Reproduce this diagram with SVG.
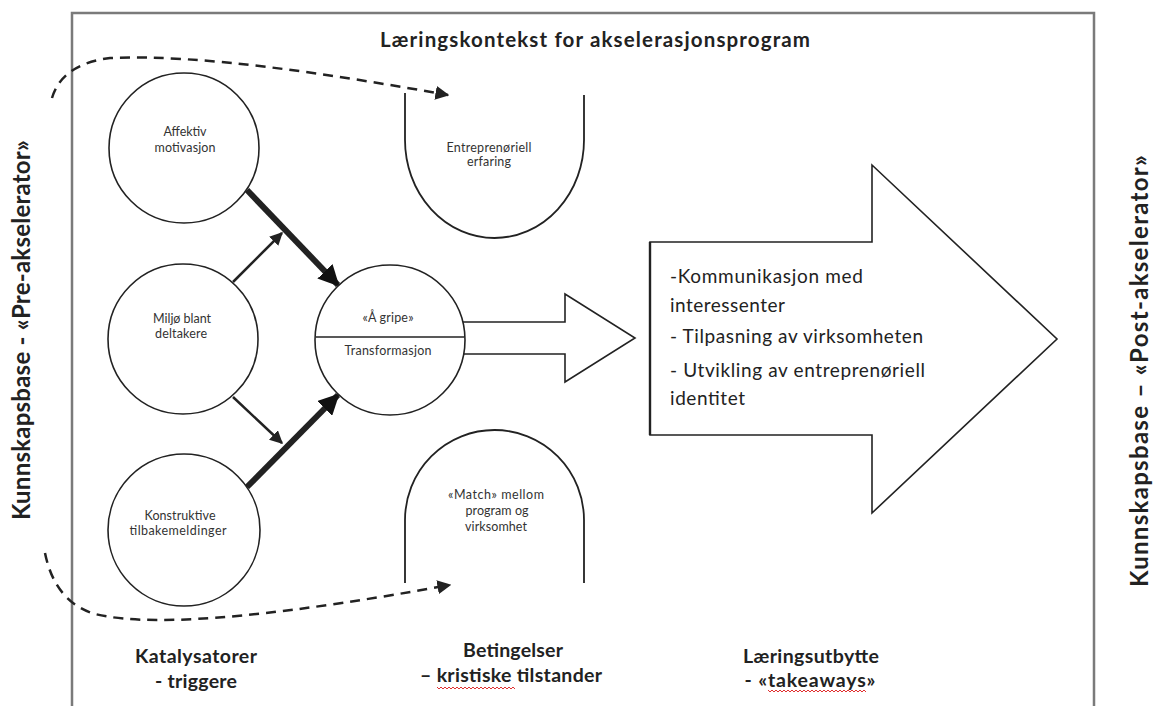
<svg xmlns="http://www.w3.org/2000/svg" width="1156" height="706" viewBox="0 0 1156 706">
<defs>
<style>
text{font-family:Lato,"Liberation Sans",sans-serif;fill:#222}
.b{font-weight:bold}
.sm{font-size:12.5px;fill:#333}
.big{font-size:19px}
.lbl{font-size:19.5px;font-weight:bold;text-anchor:middle}
.node{fill:#fff;stroke:#222;stroke-width:1.6}
.line{fill:none;stroke:#222}
.dash{fill:none;stroke:#222;stroke-width:2.5;stroke-dasharray:10 7}
.wavy{fill:none;stroke:#e03030;stroke-width:1}
</style>
<marker id="hd" viewBox="0 0 10 10" refX="9" refY="5" markerWidth="14" markerHeight="14" markerUnits="userSpaceOnUse" orient="auto"><path d="M0,0 L10,5 L0,10 Z" fill="#222"/></marker>
<marker id="hthin" viewBox="0 0 10 10" refX="9" refY="5" markerWidth="13" markerHeight="13" markerUnits="userSpaceOnUse" orient="auto"><path d="M0,0 L10,5 L0,10 Z" fill="#222"/></marker>
<marker id="hthick" viewBox="0 0 10 10" refX="9" refY="5" markerWidth="21" markerHeight="21" markerUnits="userSpaceOnUse" orient="auto"><path d="M0,0 L10,5 L0,10 Z" fill="#111"/></marker>
</defs>
<rect width="1156" height="706" fill="#fff"/>

<g id="frame">
<path d="M72,706 V13 H1094 V706" fill="none" stroke="#7a7a7a" stroke-width="2.5"/>
</g>

<g id="title">
<text class="b" x="595" y="47" font-size="20.5" text-anchor="middle" textLength="430">Læringskontekst for akselerasjonsprogram</text>
</g>

<g id="side-left">
<text class="b" font-size="24" text-anchor="middle" transform="translate(30,330) rotate(-90)" textLength="380">Kunnskapsbase - «Pre-akselerator»</text>
</g>
<g id="side-right">
<text class="b" font-size="24" text-anchor="middle" transform="translate(1148,371) rotate(-90)" textLength="432">Kunnskapsbase – «Post-akselerator»</text>
</g>

<g id="connectors">
<path class="dash" d="M52,98 Q62,64 110,58 C200,54 330,74 448,95" marker-end="url(#hd)"/>
<path class="dash" d="M45,553 Q55,602 95,614 C160,630 300,612 450,585" marker-end="url(#hd)"/>
<line class="line" x1="247" y1="190" x2="338" y2="285" stroke-width="6" marker-end="url(#hthick)"/>
<line class="line" x1="247" y1="487" x2="338" y2="395" stroke-width="6" marker-end="url(#hthick)"/>
<line class="line" x1="233" y1="282" x2="282" y2="233" stroke-width="2.5" marker-end="url(#hthin)"/>
<line class="line" x1="233" y1="397" x2="282" y2="443" stroke-width="2.5" marker-end="url(#hthin)"/>
<path class="line" stroke-width="1.6" d="M463,322 H565 V294 L635,338 L565,382 V354 H463"/>
</g>

<g id="affektiv">
<circle class="node" cx="184" cy="148" r="75"/>
<text class="sm" x="185" y="136" text-anchor="middle" textLength="43">Affektiv</text>
<text class="sm" x="185" y="152" text-anchor="middle" textLength="61">motivasjon</text>
</g>

<g id="miljo">
<circle class="node" cx="183" cy="339" r="75"/>
<text class="sm" x="182" y="323" text-anchor="middle" textLength="58">Miljø blant</text>
<text class="sm" x="181" y="338" text-anchor="middle" textLength="52">deltakere</text>
</g>

<g id="konstruktive">
<circle class="node" cx="184" cy="530" r="76"/>
<text class="sm" x="180" y="520" text-anchor="middle" textLength="71">Konstruktive</text>
<text class="sm" x="178" y="535" text-anchor="middle" textLength="97">tilbakemeldinger</text>
</g>

<g id="transformasjon">
<circle class="node" cx="390" cy="340" r="75" stroke-width="2"/>
<line x1="316" y1="337" x2="464" y2="337" stroke="#222" stroke-width="1.6"/>
<text class="sm" x="388" y="322" text-anchor="middle" textLength="51">«Å gripe»</text>
<text class="sm" x="388" y="355" text-anchor="middle" textLength="87">Transformasjon</text>
</g>

<g id="entreprenoriell">
<path class="line" stroke-width="1.8" d="M405,93 V140 A89.5,98 0 0 0 584,140 V95"/>
<text class="sm" x="489" y="152" text-anchor="middle" textLength="85">Entreprenøriell</text>
<text class="sm" x="489" y="166" text-anchor="middle" textLength="44">erfaring</text>
</g>

<g id="match">
<path class="line" stroke-width="1.8" d="M405,583 V520 A89.5,90 0 0 1 584,520 V583"/>
<text class="sm" x="496" y="499" text-anchor="middle" textLength="96">«Match» mellom</text>
<text class="sm" x="497" y="515" text-anchor="middle" textLength="63">program og</text>
<text class="sm" x="496" y="531" text-anchor="middle" textLength="62">virksomhet</text>
</g>

<g id="laeringsutbytte-pil">
<path d="M650,242 H872 V165 L1057,339 L872,513 V435 H650 Z" fill="#fff" stroke="#222" stroke-width="1.6"/>
<line x1="650" y1="242" x2="650" y2="435" stroke="#222" stroke-width="2.4"/>
<text class="big" x="670" y="283" textLength="193">-Kommunikasjon med</text>
<text class="big" x="670" y="312" textLength="115">interessenter</text>
<text class="big" x="670" y="343" textLength="253">- Tilpasning av virksomheten</text>
<text class="big" x="670" y="377" textLength="255">- Utvikling av entreprenøriell</text>
<text class="big" x="670" y="405" textLength="75">identitet</text>
</g>

<g id="katalysatorer">
<text class="lbl" x="196" y="663" textLength="122">Katalysatorer</text>
<text class="lbl" x="196" y="688" textLength="82">- triggere</text>
</g>

<g id="betingelser">
<text class="lbl" x="513" y="657" textLength="100">Betingelser</text>
<text class="lbl" x="511" y="682" textLength="182">– kristiske tilstander</text>
<path class="wavy" d="M437,687 l2,2 l2,-2 l2,2 l2,-2 l2,2 l2,-2 l2,2 l2,-2 l2,2 l2,-2 l2,2 l2,-2 l2,2 l2,-2 l2,2 l2,-2 l2,2 l2,-2 l2,2 l2,-2 l2,2 l2,-2 l2,2 l2,-2 l2,2 l2,-2 l2,2 l2,-2 l2,2 l2,-2 l2,2 l2,-2 l2,2 l2,-2 l2,2 l2,-2 l2,2 l2,-2 l2,2"/>
</g>

<g id="laeringsutbytte">
<text class="lbl" x="811" y="663" textLength="136">Læringsutbytte</text>
<text class="lbl" x="810" y="687" textLength="131">- «takeaways»</text>
<path class="wavy" d="M768,690 l2,2 l2,-2 l2,2 l2,-2 l2,2 l2,-2 l2,2 l2,-2 l2,2 l2,-2 l2,2 l2,-2 l2,2 l2,-2 l2,2 l2,-2 l2,2 l2,-2 l2,2 l2,-2 l2,2 l2,-2 l2,2 l2,-2 l2,2 l2,-2 l2,2 l2,-2 l2,2 l2,-2 l2,2 l2,-2 l2,2 l2,-2 l2,2 l2,-2 l2,2 l2,-2 l2,2 l2,-2 l2,2 l2,-2 l2,2 l2,-2 l2,2 l2,-2 l2,2 l2,-2 l2,2"/>
</g>
</svg>
